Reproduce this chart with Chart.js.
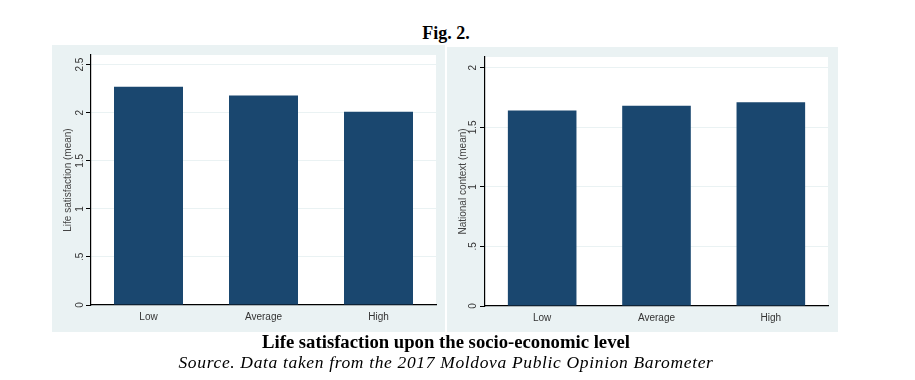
<!DOCTYPE html>
<html>
<head>
<meta charset="utf-8">
<script src="https://cdn.jsdelivr.net/npm/chart.js@4.4.1/dist/chart.umd.min.js"></script>
<style>
  html, body { margin: 0; padding: 0; background: #ffffff; }
  body { width: 915px; height: 380px; position: relative; overflow: hidden; }
  .panel { position: absolute; background: #eaf2f3; }
  .panel canvas { position: absolute; left: 0; top: 0; }
  .txt { position: absolute; left: 0; width: 892px; text-align: center; font-family: "Liberation Serif", "Times New Roman", serif; color: #000; white-space: nowrap; }
</style>
</head>
<body>
<div class="txt" style="top:24px; font-size:18px; line-height:18px; font-weight:bold;">Fig. 2.</div>
<div class="panel" style="left:52px; top:45px; width:393px; height:287px;"><canvas id="c1" width="393" height="287"></canvas></div>
<div class="panel" style="left:447px; top:47px; width:391px; height:285px;"><canvas id="c2" width="391" height="285"></canvas></div>
<div class="txt" style="top:333px; font-size:18.7px; line-height:18.7px; font-weight:bold;">Life satisfaction upon the socio-economic level</div>
<div class="txt" style="top:354px; font-size:17.5px; line-height:17.5px; font-style:italic; letter-spacing:0.65px;">Source. Data taken from the 2017 Moldova Public Opinion Barometer</div>
<script>
// ---- data ----
const categories = ['Low', 'Average', 'High'];
const lifeSatisfaction = [2.27, 2.18, 2.01];
const nationalContext = [1.64, 1.68, 1.71];
const leftTickValues = [0, 0.5, 1, 1.5, 2, 2.5];
const rightTickValues = [0, 0.5, 1, 1.5, 2];
const leftAxisMax = 2.6;
const rightAxisMax = 2.09;
const leftTitle = 'Life satisfaction (mean)';
const rightTitle = 'National context (mean)';

function fmt(v) {
  if (v === 0) return '0';
  let s = String(v);
  if (s.startsWith('0.')) s = s.slice(1);
  return s;
}

const rotatedYLabels = {
  id: 'rotatedYLabels',
  beforeDraw(chart) {
    const a = chart.chartArea, ctx = chart.ctx;
    ctx.save();
    ctx.fillStyle = '#ffffff';
    ctx.fillRect(a.left, a.top, a.right - a.left, a.bottom - a.top);
    ctx.restore();
  },
  afterDraw(chart, args, opts) {
    const ctx = chart.ctx, ys = chart.scales.y, a = chart.chartArea;
    ctx.save();
    ctx.fillStyle = '#333';
    ctx.font = '10px "Liberation Sans", Arial, sans-serif';
    ctx.textAlign = 'center';
    ctx.textBaseline = 'middle';
    ys.ticks.forEach(t => {
      const y = ys.getPixelForValue(t.value);
      ctx.save();
      ctx.translate(a.left - opts.tickOffset, y);
      ctx.rotate(-Math.PI / 2);
      ctx.fillText(fmt(t.value), 0, 0);
      ctx.restore();
    });
    ctx.save();
    ctx.translate(a.left - opts.titleOffset, (a.top + a.bottom) / 2);
    ctx.rotate(-Math.PI / 2);
    ctx.fillStyle = '#444';
    ctx.fillText(opts.title, 0, 0);
    ctx.restore();
    ctx.restore();
  }
};

function makeChart(id, values, tickValues, max, title, axisW, xH, pad, tickOffset, titleOffset) {
  return new Chart(document.getElementById(id), {
    type: 'bar',
    data: {
      labels: categories,
      datasets: [{
        data: values,
        backgroundColor: '#1a476f',
        borderWidth: 0,
        categoryPercentage: 0.6,
        barPercentage: 1.0
      }]
    },
    options: {
      responsive: false,
      animation: false,
      layout: { padding: pad },
      plugins: {
        legend: { display: false },
        tooltip: { enabled: false },
        title: { display: false },
        rotatedYLabels: { title: title, tickOffset: tickOffset, titleOffset: titleOffset }
      },
      scales: {
        x: {
          grid: { display: false, drawTicks: false },
          border: { display: true, color: '#000', width: 1.2 },
          ticks: { color: '#333', font: { family: '"Liberation Sans", Arial, sans-serif', size: 10 }, padding: 6, maxRotation: 0 },
          afterFit(scale) { scale.height = xH; }
        },
        y: {
          min: 0,
          max: max,
          afterBuildTicks(scale) { scale.ticks = tickValues.map(v => ({ value: v })); },
          grid: { color: '#eaf2f3', lineWidth: 1, drawTicks: true, tickLength: 5, tickColor: '#000' },
          border: { display: true, color: '#000', width: 1.2 },
          ticks: { display: false },
          afterFit(scale) { scale.width = axisW; }
        }
      }
    },
    plugins: [rotatedYLabels]
  });
}

makeChart('c1', lifeSatisfaction, leftTickValues, leftAxisMax, leftTitle, 39, 27, { top: 10, right: 9, left: 0, bottom: 0 }, 11, 23);
makeChart('c2', nationalContext, rightTickValues, rightAxisMax, rightTitle, 38, 26, { top: 10, right: 10, left: 0, bottom: 0 }, 12, 22);
</script>
</body>
</html>
